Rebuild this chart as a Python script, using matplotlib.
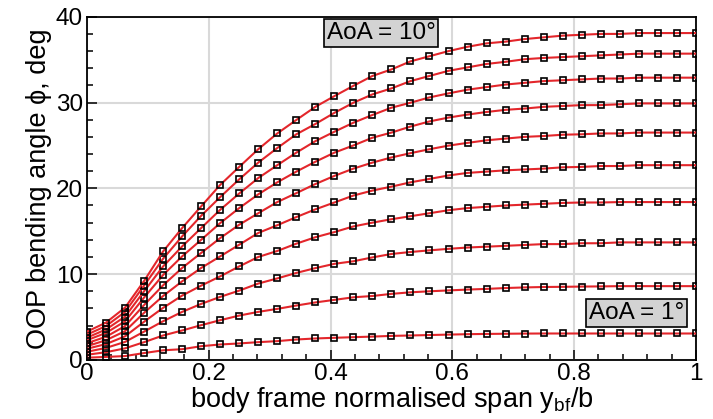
import matplotlib
matplotlib.use('Agg')
import matplotlib.pyplot as plt
from matplotlib.ticker import MultipleLocator

# normalised span stations (body frame)
span = [0.0, 0.03125, 0.0625, 0.09375, 0.125, 0.15625, 0.1875, 0.21875,
        0.25, 0.28125, 0.3125, 0.34375, 0.375, 0.40625, 0.4375, 0.46875,
        0.5, 0.53125, 0.5625, 0.59375, 0.625, 0.65625, 0.6875, 0.71875,
        0.75, 0.78125, 0.8125, 0.84375, 0.875, 0.90625, 0.9375, 0.96875, 1.0]

# OOP bending angle (deg) for AoA = 1..10 deg
phi_aoa1 = [0.26, 0.35, 0.45, 0.8, 1.12, 1.25, 1.6, 1.8, 1.92, 2.07, 2.19,
            2.38, 2.5, 2.58, 2.65, 2.72, 2.8, 2.85, 2.9, 2.95, 3.0, 3.03,
            3.05, 3.07, 3.08, 3.08, 3.08, 3.08, 3.08, 3.08, 3.08, 3.08, 3.08]
phi_aoa2 = [0.6, 0.9, 1.35, 2.07, 2.85, 3.43, 4.05, 4.63, 5.17, 5.6, 5.95,
            6.34, 6.7, 7.0, 7.3, 7.45, 7.7, 7.88, 8.0, 8.1, 8.2, 8.28,
            8.38, 8.45, 8.5, 8.52, 8.55, 8.57, 8.6, 8.6, 8.6, 8.6, 8.6]
phi_aoa3 = [0.95, 1.4, 2.1, 3.3, 4.51, 5.6, 6.53, 7.35, 8.08, 8.9, 9.5,
            10.14, 10.7, 11.2, 11.5, 11.95, 12.35, 12.58, 12.77, 12.95, 13.1, 13.2,
            13.3, 13.4, 13.5, 13.5, 13.6, 13.6, 13.7, 13.7, 13.7, 13.7, 13.7]
phi_aoa4 = [1.3, 1.85, 2.75, 4.45, 6.07, 7.5, 8.66, 9.74, 10.9, 12.0, 12.7,
            13.55, 14.3, 14.9, 15.56, 16.0, 16.4, 16.75, 17.1, 17.45, 17.7, 17.85,
            18.0, 18.1, 18.2, 18.3, 18.35, 18.35, 18.4, 18.4, 18.4, 18.4, 18.4]
phi_aoa5 = [1.6, 2.3, 3.35, 5.49, 7.45, 9.16, 10.72, 12.07, 13.43, 14.8, 15.7,
            16.65, 17.55, 18.35, 19.16, 19.74, 20.2, 20.7, 21.1, 21.5, 21.8, 21.95,
            22.1, 22.2, 22.3, 22.45, 22.5, 22.6, 22.6, 22.7, 22.7, 22.7, 22.7]
phi_aoa6 = [1.95, 2.7, 3.95, 6.4, 8.7, 10.72, 12.47, 14.2, 15.76, 17.1, 18.4,
            19.44, 20.5, 21.45, 22.3, 23.0, 23.6, 24.1, 24.56, 24.98, 25.3, 25.6,
            25.8, 26.0, 26.1, 26.25, 26.3, 26.4, 26.4, 26.5, 26.5, 26.5, 26.5]
phi_aoa7 = [2.3, 3.15, 4.5, 7.27, 9.9, 12.07, 14.0, 15.95, 17.7, 19.3, 20.7,
            21.95, 23.1, 24.16, 25.0, 25.9, 26.5, 27.2, 27.8, 28.25, 28.6, 28.9,
            29.15, 29.3, 29.5, 29.6, 29.7, 29.7, 29.8, 29.9, 29.9, 29.9, 29.9]
phi_aoa8 = [2.6, 3.55, 5.05, 8.0, 10.9, 13.23, 15.37, 17.5, 19.4, 21.2, 22.7,
            24.16, 25.5, 26.6, 27.65, 28.55, 29.4, 29.98, 30.6, 31.07, 31.5, 31.8,
            32.1, 32.3, 32.5, 32.6, 32.7, 32.8, 32.8, 32.9, 32.9, 32.9, 32.9]
phi_aoa9 = [2.95, 3.95, 5.6, 8.66, 11.8, 14.4, 16.8, 18.98, 21.05, 23.0, 24.7,
            26.3, 27.5, 28.8, 29.98, 30.95, 31.65, 32.5, 33.1, 33.7, 34.1, 34.5,
            34.75, 35.05, 35.2, 35.3, 35.4, 35.5, 35.6, 35.7, 35.7, 35.7, 35.7]
phi_aoa10 = [3.3, 4.35, 6.1, 9.2, 12.65, 15.37, 17.9, 20.4, 22.5, 24.56, 26.4,
             27.97, 29.5, 30.75, 31.95, 33.1, 33.86, 34.8, 35.4, 36.0, 36.5, 36.9,
             37.1, 37.4, 37.6, 37.8, 37.9, 38.0, 38.0, 38.1, 38.1, 38.1, 38.1]

all_phi = [phi_aoa1, phi_aoa2, phi_aoa3, phi_aoa4, phi_aoa5,
           phi_aoa6, phi_aoa7, phi_aoa8, phi_aoa9, phi_aoa10]

plt.rcParams['font.family'] = ['Liberation Sans', 'DejaVu Sans']

fig = plt.figure(figsize=(7.13, 4.19), dpi=100)
ax = fig.add_axes([0.122, 0.141, 0.854, 0.819])

for phi in all_phi:
    ax.plot(span, phi, color='#e3262b', lw=1.5, marker='s', ms=5,
            mfc='none', mec='black', mew=1.2, zorder=3)

ax.set_xlim(0, 1)
ax.set_ylim(0, 40)
ax.xaxis.set_major_locator(MultipleLocator(0.2))
ax.xaxis.set_minor_locator(MultipleLocator(0.04))
ax.yaxis.set_major_locator(MultipleLocator(10))
ax.yaxis.set_minor_locator(MultipleLocator(2))
ax.set_xticks([0, 0.2, 0.4, 0.6, 0.8, 1.0])
ax.set_xticklabels(['0', '0.2', '0.4', '0.6', '0.8', '1'])

ax.tick_params(which='both', direction='in', top=False, right=False,
               labelsize=17.5, width=1.1)
ax.tick_params(axis='x', pad=2)
ax.tick_params(axis='y', pad=3)
ax.tick_params(which='major', length=7)
ax.tick_params(which='minor', length=4)

ax.grid(True, which='major', color='#d9d9d9', lw=1.5, zorder=0)
ax.set_axisbelow(True)
for sp in ax.spines.values():
    sp.set_linewidth(1.3)

ax.set_xlabel('body frame normalised span y$_{\\mathregular{bf}}$/b', fontsize=19.5, labelpad=0)
ax.set_ylabel('OOP bending angle ϕ, deg', fontsize=19.5, labelpad=3)

box = dict(boxstyle='square,pad=0.12', facecolor='#d3d3d3', edgecolor='black', lw=1.2)
ax.text(0.483, 38.1, 'AoA = 10°', fontsize=17.5, ha='center', va='center', bbox=box, zorder=5)
ax.text(0.902, 5.5, 'AoA = 1°', fontsize=17.5, ha='center', va='center', bbox=box, zorder=5)

fig.savefig('out.png', dpi=100)
